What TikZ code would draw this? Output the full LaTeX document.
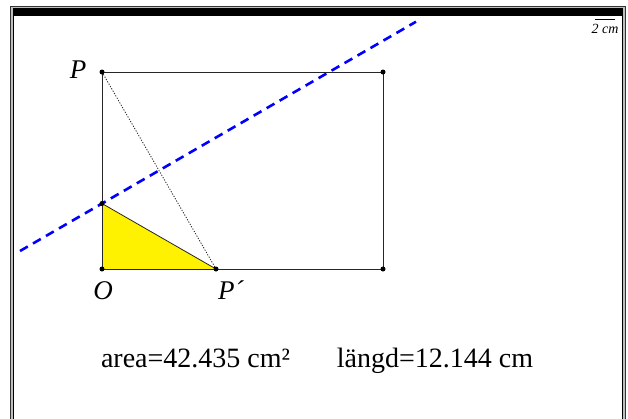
\documentclass[tikz,border=0pt]{standalone}
\usepackage{fontspec}
\setmainfont{Liberation Serif}
\begin{document}
\begin{tikzpicture}[x=1pt,y=-1pt,
  pt/.style={circle,fill=black,inner sep=0pt,minimum size=5pt},
  edge/.style={draw=black!85,line width=0.8pt},
  lbl/.style={inner sep=0pt,anchor=base,font=\fontsize{27}{27}\selectfont\itshape},
  meas/.style={inner sep=0pt,anchor=base,font=\fontsize{28}{28}\selectfont},
  bisect/.style={draw=blue,line width=2.6pt,dash pattern=on 9pt off 6pt}]
\useasboundingbox (0,0) rectangle (628,418);
% frame
\fill[white] (0,0) rectangle (628,418);
\filldraw[fill=black!25,draw=black!80,line width=1pt] (10.5,430) -- (10.5,6.5) -- (625.5,6.5) -- (625.5,430);
\filldraw[fill=white,draw=black,line width=1pt] (13.5,430) -- (13.5,8) -- (622,8) -- (622,430);
\fill[black] (13.5,8) rectangle (622,16);
% points
\coordinate (P) at (102,72);
\coordinate (R) at (383,72);
\coordinate (S) at (383,269);
\coordinate (O) at (102,269);
\coordinate (Q) at (216,269);
\coordinate (M) at (102,203.5);
\coordinate (L1) at (20,251);
\coordinate (L2) at (416,21.7);
% yellow triangle
\fill[yellow] (O) -- (M) -- (Q) -- cycle;
% rectangle
\draw[edge] (P) -- (R) -- (S) -- (O) -- cycle;
\draw[edge] (M) -- (Q);
\draw[black!85,line width=0.8pt,dash pattern=on 1.2pt off 1.5pt] (P) -- (Q);
% bisector
\draw[bisect] (L1) -- (L2);
% dots
\foreach \p in {P,R,S,O,Q,M} \node[pt] at (\p) {};
% labels
\node[lbl] (lP) at (78,78) {P};
\node[lbl] (lO) at (103,299) {O};
\node[lbl,anchor=base west] (lQ) at (218,299) {P´};
\node[meas] (area) at (195.5,367) {area=42.435 cm²};
\node[meas] (len) at (435,367) {längd=12.144 cm};
% scale
\draw[black,line width=0.8pt] (595,19) -- (615,19);
\node[inner sep=0pt,anchor=base,font=\fontsize{14}{14}\selectfont\itshape] (sc) at (605,33) {2 cm};
\end{tikzpicture}
\end{document}
